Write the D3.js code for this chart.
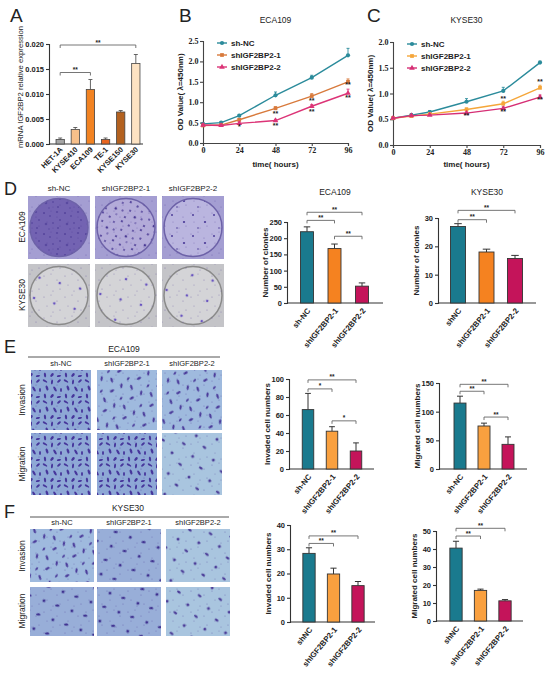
<!DOCTYPE html>
<html lang="en">
<head>
  <meta charset="UTF-8">
  <title>IGF2BP2 panels</title>
  <style>
    body { margin: 0; background: #fff; }
    svg { display: block; }
    .tk text { font-family: "Liberation Sans", Arial, sans-serif; font-size: 7.5px; font-weight: bold; fill: #222; }
    .tk path, .tk line { stroke: #333; stroke-width: 1.1; }
    .sr text { font-family: "Liberation Serif", "Times New Roman", serif; font-size: 8px; font-weight: bold; fill: #222; }
    .sr path, .sr line { stroke: #444; stroke-width: 1.1; }
    .lab { font-family: "Liberation Sans", Arial, sans-serif; fill: #222; }
  </style>
</head>
<body>
<div id="fig"></div>
<script src="https://d3js.org/d3.v7.min.js"></script>
<script>
// ---- data ----
const cellLines = ["HET-1A", "KYSE410", "ECA109", "TE-1", "KYSE150", "KYSE30"];
const exprMean = [0.0009, 0.0029, 0.0109, 0.0009, 0.0064, 0.0161];
const exprErr = [0.0003, 0.0004, 0.0020, 0.0003, 0.0003, 0.0018];
const exprColors = ["#a6a6a6", "#f7c08a", "#f28322", "#e8651f", "#b3611f", "#fde3c3"];

const hours = [0, 12, 24, 48, 72, 96];
const ecaNC = [0.47, 0.50, 0.67, 1.17, 1.60, 2.15];
const ecaNCErr = [0.02, 0.02, 0.03, 0.08, 0.06, 0.17];
const ecaSh1 = [0.43, 0.44, 0.57, 0.85, 1.15, 1.50];
const ecaSh1Err = [0.02, 0.02, 0.03, 0.04, 0.06, 0.07];
const ecaSh2 = [0.44, 0.43, 0.48, 0.55, 0.90, 1.22];
const ecaSh2Err = [0.02, 0.02, 0.04, 0.03, 0.04, 0.10];
const ecaStars = [[24, 0.38, "*"], [48, 0.71, "**"], [48, 0.42, "**"], [72, 1.04, "**"], [72, 0.77, "**"], [96, 1.41, "**"], [96, 1.11, "**"]];

const kyNC = [0.52, 0.58, 0.64, 0.84, 1.05, 1.60];
const kyNCErr = [0.02, 0.03, 0.03, 0.06, 0.07, 0.03];
const kySh1 = [0.52, 0.56, 0.60, 0.69, 0.80, 1.11];
const kySh1Err = [0.02, 0.02, 0.02, 0.03, 0.05, 0.05];
const kySh2 = [0.52, 0.57, 0.58, 0.62, 0.71, 0.93];
const kySh2Err = [0.02, 0.02, 0.02, 0.02, 0.03, 0.04];
const kyStars = [[48, 0.57, "**"], [72, 0.90, "**"], [72, 0.64, "**"], [96, 1.23, "**"], [96, 0.87, "**"]];

const groups = ["sh-NC", "shIGF2BP2-1", "shIGF2BP2-2"];
const groupsB = ["shNC", "shIGF2BP2-1", "shIGF2BP2-2"];

const clonesEca = [220, 168, 52], clonesEcaErr = [15, 14, 10];
const clonesKy = [27, 18, 15.7], clonesKyErr = [1, 1, 1.1];
const invEca = [66, 42, 20], invEcaErr = [18, 5, 9];
const migEca = [115, 75, 43], migEcaErr = [12, 5, 13];
const invKy = [28.3, 19.8, 15], invKyErr = [2.3, 2.4, 1.7];
const migKy = [40.5, 17, 11.2], migKyErr = [3.8, 0.7, 0.7];

const svg = d3.select("#fig").append("svg").attr("width", 550).attr("height", 673);
svg.append("rect").attr("width", 550).attr("height", 673).attr("fill", "#fff");

// photo textures (stand-ins for the micrographs)
const defs = svg.append("defs");
function texture(id, size, bg, fg, spots, rot) {
  const p = defs.append("pattern").attr("id", id).attr("patternUnits", "userSpaceOnUse")
    .attr("width", size).attr("height", size).attr("patternTransform", `rotate(${rot || 0})`);
  p.append("rect").attr("width", size).attr("height", size).attr("fill", bg);
  spots.forEach(s => p.append("ellipse").attr("cx", s[0]).attr("cy", s[1])
    .attr("rx", s[2]).attr("ry", s[3]).attr("fill", fg)
    .attr("transform", `rotate(${s[4] || 0},${s[0]},${s[1]})`));
}
const speck = [[2, 3, 0.6, 0.6], [9, 1, 0.5, 0.5], [15, 7, 0.6, 0.6], [5, 12, 0.5, 0.5], [18, 16, 0.6, 0.6], [11, 18, 0.5, 0.5]];
const manyDots = [[2, 3, 1.1, 1.1], [8, 6, 0.9, 0.9], [15, 2, 1.2, 1.1], [18, 10, 1, 1], [4, 14, 1.3, 1.2], [11, 13, 0.9, 0.9], [16, 18, 1.1, 1], [7, 19, 0.8, 0.8]];
const fewDots = [[4, 5, 1, 1], [16, 12, 1.2, 1.1], [9, 18, 0.8, 0.8]];
const cellsMany = [[3, 3, 2.6, 1, 30], [10, 4, 1, 2.4, 10], [17, 3, 2.2, 1.1, -40], [5, 10, 1.2, 2.6, -20], [13, 11, 2.8, 1.2, 60],
  [19, 12, 1, 2, 0], [3, 18, 2.4, 1.1, 80], [10, 18, 1.3, 2.2, 40], [17, 19, 2.2, 1, -10]];
const cellsSome = [[4, 4, 2.6, 1.1, 50], [15, 6, 1.1, 2.5, -15], [8, 14, 2.4, 1.2, -50], [19, 18, 1, 1.8, 20]];
const cellsFew = [[6, 6, 2.2, 1.2, 30], [17, 17, 1.5, 1.5, 0]];
texture("sp1", 21, "rgba(0,0,0,0)", "rgba(60,40,140,0.45)", speck);
texture("plateDense", 21, "#7363b2", "#5a4aa0", manyDots);
texture("plateMid", 21, "#b3abd9", "#4b3a95", manyDots, 25);
texture("plateLight", 21, "#bab5df", "#4e3e9a", fewDots);
texture("plateGray", 21, "#d4d4d7", "#6a55c0", [[5, 6, 1.3, 1.2]], 15);
texture("cellsDense", 21, "#8ea8d6", "#47379c", cellsMany);
texture("cellsMid", 21, "#9fbade", "#4a3a9a", cellsSome, 20);
texture("cellsLight", 21, "#a9c5df", "#4c3d98", cellsFew, 10);
texture("cellsF", 21, "#98aed8", "#3f3190", cellsFew, -25);

function photo(x, y, w, h, fill, plate) {
  svg.append("rect").attr("x", x).attr("y", y).attr("width", w).attr("height", h)
    .attr("fill", plate ? (plate === "gray" ? "#c4c4c8" : "#a49ed2") : `url(#${fill})`);
  if (plate) {
    svg.append("circle").attr("cx", x + w / 2).attr("cy", y + h / 2).attr("r", Math.min(w, h) / 2 - 2)
      .attr("fill", `url(#${fill})`).attr("stroke", plate === "gray" ? "#8a8a8a" : "#6d62a8").attr("stroke-width", 1.5);
  }
  svg.append("rect").attr("x", x).attr("y", y).attr("width", w).attr("height", h).attr("fill", "url(#sp1)");
}
function text(x, y, s, size, opts = {}) {
  const t = svg.append("text").attr("class", "lab").attr("x", x).attr("y", y).text(s)
    .attr("font-size", size).attr("text-anchor", opts.anchor || "middle");
  if (opts.bold) t.attr("font-weight", "bold");
  if (opts.rot) t.attr("transform", `rotate(${opts.rot},${x},${y})`);
  if (opts.family) t.attr("font-family", opts.family);
  return t;
}
function bracket(x1, x2, y, label) {
  svg.append("path").attr("d", `M${x1},${y + 3}V${y}H${x2}V${y + 3}`)
    .attr("fill", "none").attr("stroke", "#666").attr("stroke-width", 0.9);
  text((x1 + x2) / 2, y - 0.5, label, 6.5, { bold: true }).attr("fill", "#555");
}

// panel letters
text(10, 22, "A", 19, { anchor: "start" });
text(179, 22, "B", 19, { anchor: "start" });
text(367, 22, "C", 19, { anchor: "start" });
text(4, 195, "D", 18, { anchor: "start" });
text(4, 353, "E", 18, { anchor: "start" });
text(4, 518, "F", 18, { anchor: "start" });

// ---- A: expression bars ----
(function () {
  const y = d3.scaleLinear().domain([0, 0.02]).range([144, 44]);
  const x = d3.scaleBand().domain(cellLines).range([53, 143]).paddingInner(0.45).paddingOuter(0.2);
  svg.append("g").attr("class", "tk").attr("transform", "translate(49,0)")
    .call(d3.axisLeft(y).tickValues(d3.range(0, 0.0201, 0.005)).tickSize(3).tickPadding(2).tickFormat(d3.format(".3f")));
  svg.append("line").attr("x1", 49).attr("x2", 143).attr("y1", 144).attr("y2", 144)
    .attr("stroke", "#333").attr("stroke-width", 1.1);
  const g = svg.append("g");
  g.selectAll("path").data(cellLines).join("path")
    .attr("d", (d, i) => { const c = x(d) + x.bandwidth() / 2, t = y(exprMean[i] + exprErr[i]);
      return `M${c},${y(exprMean[i])}V${t}M${c - 2},${t}H${c + 2}`; })
    .attr("stroke", "#555").attr("stroke-width", 0.9);
  g.selectAll("rect").data(cellLines).join("rect")
    .attr("x", d => x(d)).attr("width", x.bandwidth())
    .attr("y", (d, i) => y(exprMean[i])).attr("height", (d, i) => 144 - y(exprMean[i]))
    .attr("fill", (d, i) => exprColors[i]).attr("stroke", "#444").attr("stroke-width", 0.8);
  const cx = d => x(d) + x.bandwidth() / 2;
  bracket(cx("HET-1A"), cx("ECA109"), y(0.0143), "**");
  bracket(cx("HET-1A"), cx("KYSE30"), y(0.0198), "**");
  cellLines.forEach(d => text(cx(d) + 3, 150, d, 7.5, { anchor: "end", bold: true, rot: -45 }));
  text(23, 87, "mRNA IGF2BP2 relative  expression", 7.7, { rot: -90 });
})();

// ---- B, C: growth curves ----
function growth(cfg) {
  const x = d3.scaleLinear().domain([0, 96]).range([cfg.x0, cfg.x1]);
  const y = d3.scaleLinear().domain([0, cfg.max]).range([cfg.y0, cfg.y1]);
  svg.append("g").attr("class", "sr").attr("transform", `translate(0,${cfg.y0})`)
    .call(d3.axisBottom(x).tickValues([0, 24, 48, 72, 96]).tickSize(3).tickPadding(1.5));
  svg.append("g").attr("class", "sr").attr("transform", `translate(${cfg.x0},0)`)
    .call(d3.axisLeft(y).tickValues(d3.range(0, cfg.max + 0.01, 0.5)).tickSize(3).tickPadding(1.5).tickFormat(d3.format(".1f")));
  const line = d3.line().x((d, i) => x(hours[i])).y(d => y(d));
  cfg.series.forEach(s => {
    svg.append("path").datum(s.v).attr("d", line).attr("fill", "none").attr("stroke", s.c).attr("stroke-width", 1.4);
    svg.append("g").selectAll("path").data(s.v).join("path")
      .attr("d", (d, i) => { const c = x(hours[i]), t = y(d + s.e[i]); return `M${c},${y(d)}V${t}M${c - 1.5},${t}H${c + 1.5}`; })
      .attr("stroke", s.c).attr("stroke-width", 0.9);
    svg.append("g").selectAll("path").data(s.v).join("path")
      .attr("transform", (d, i) => `translate(${x(hours[i])},${y(d)})`)
      .attr("d", d3.symbol().type(s.sym).size(14)).attr("fill", s.c);
  });
  cfg.stars.forEach(s => text(x(s[0]), y(s[1]) + 2, s[2], 7, { bold: true }).attr("fill", "#444"));
  text((cfg.x0 + cfg.x1) / 2, 23, cfg.title, 8.5);
  text((cfg.x0 + cfg.x1) / 2, 167, "time( hours)", 8, { bold: true, family: "Liberation Serif, serif" });
  text(cfg.x0 - 20, (cfg.y0 + cfg.y1) / 2, "OD Value( λ=450nm)", 8, { rot: -90, bold: true, family: "Liberation Serif, serif" });
  cfg.series.forEach((s, i) => {
    const ly = cfg.ly + i * 12;
    svg.append("line").attr("x1", cfg.lx).attr("x2", cfg.lx + 10).attr("y1", ly).attr("y2", ly).attr("stroke", s.c).attr("stroke-width", 1.4);
    svg.append("path").attr("transform", `translate(${cfg.lx + 5},${ly})`).attr("d", d3.symbol().type(s.sym).size(14)).attr("fill", s.c);
    text(cfg.lx + 14, ly + 3, groups[i], 8, { anchor: "start", bold: true });
  });
}
growth({
  x0: 203, x1: 348, y0: 143, y1: 41, max: 2.5, title: "ECA109", lx: 217, ly: 43, stars: ecaStars,
  series: [
    { v: ecaNC, e: ecaNCErr, c: "#2b8b9b", sym: d3.symbolCircle },
    { v: ecaSh1, e: ecaSh1Err, c: "#d87a3c", sym: d3.symbolSquare },
    { v: ecaSh2, e: ecaSh2Err, c: "#dc3477", sym: d3.symbolTriangle }
  ]
});
growth({
  x0: 393, x1: 540, y0: 145, y1: 42, max: 2.0, title: "KYSE30", lx: 407, ly: 44, stars: kyStars,
  series: [
    { v: kyNC, e: kyNCErr, c: "#2b8b9b", sym: d3.symbolCircle },
    { v: kySh1, e: kySh1Err, c: "#f5a63a", sym: d3.symbolSquare },
    { v: kySh2, e: kySh2Err, c: "#d62f75", sym: d3.symbolTriangle }
  ]
});

// ---- photo blocks ----
const colsD = [28, 95, 162], colsE = [31, 97, 162], colsF = [30, 97, 166];
groups.forEach((g, i) => text(colsD[i] + 31, 191, g, 8));
[["plateDense", "purple"], ["plateMid", "purple"], ["plateLight", "purple"]]
  .forEach((p, i) => photo(colsD[i], 196, 62, 63, p[0], p[1]));
[0, 1, 2].forEach(i => photo(colsD[i], 264, 62, 63, "plateGray", "gray"));
text(25, 227, "ECA109", 8.5, { rot: -90 });
text(25, 295, "KYSE30", 8.5, { rot: -90 });

text(124, 352, "ECA109", 8.5);
svg.append("line").attr("x1", 28).attr("x2", 220).attr("y1", 357).attr("y2", 357).attr("stroke", "#555");
groups.forEach((g, i) => text(colsE[i] + 30, 366, g, 7.5));
["cellsDense", "cellsMid", "cellsMid"].forEach((f, i) => photo(colsE[i], 370, 60, 60, f));
["cellsDense", "cellsDense", "cellsLight"].forEach((f, i) => photo(colsE[i], 433, 60, 62, f));
text(25, 400, "Invasion", 8.5, { rot: -90 });
text(25, 464, "Migration", 8.5, { rot: -90 });

text(128, 511, "KYSE30", 8.5);
svg.append("line").attr("x1", 30).attr("x2", 229).attr("y1", 517).attr("y2", 517).attr("stroke", "#555");
groups.forEach((g, i) => text(colsF[i] + 32, 525, g, 7.5));
["cellsMid", "cellsF", "cellsLight"].forEach((f, i) => photo(colsF[i], 529, 64, 53, f));
["cellsF", "cellsF", "cellsLight"].forEach((f, i) => photo(colsF[i], 587, 64, 49, f));
text(25, 556, "Invasion", 8.5, { rot: -90 });
text(25, 611, "Migration", 8.5, { rot: -90 });

// ---- D-F bar charts ----
function bars(cfg) {
  const y = d3.scaleLinear().domain([0, cfg.max]).range([cfg.y0, cfg.y1]);
  const x = d3.scalePoint().domain(cfg.cats).range([cfg.c0, cfg.c1]);
  svg.append("g").attr("class", "tk").attr("transform", `translate(${cfg.ax0},0)`)
    .call(d3.axisLeft(y).tickValues(d3.range(0, cfg.max + 0.001, cfg.step)).tickSize(3).tickPadding(2).tickFormat(d3.format("d")));
  svg.append("line").attr("x1", cfg.ax0).attr("x2", cfg.ax1).attr("y1", cfg.y0).attr("y2", cfg.y0)
    .attr("stroke", "#333").attr("stroke-width", 1.1);
  const w = cfg.bw;
  svg.append("g").selectAll("path").data(cfg.cats).join("path")
    .attr("d", (d, i) => { const c = x(d), t = y(cfg.v[i] + cfg.e[i]); return `M${c},${y(cfg.v[i])}V${t}M${c - w / 4},${t}H${c + w / 4}`; })
    .attr("stroke", "#333").attr("stroke-width", 1);
  svg.append("g").selectAll("rect").data(cfg.cats).join("rect")
    .attr("x", d => x(d) - w / 2).attr("width", w)
    .attr("y", (d, i) => y(cfg.v[i])).attr("height", (d, i) => cfg.y0 - y(cfg.v[i]))
    .attr("fill", (d, i) => cfg.colors[i]).attr("stroke", "#333").attr("stroke-width", 0.9);
  cfg.sig.forEach(s => bracket(x(cfg.cats[s[0]]), x(cfg.cats[s[1]]), y(s[2]), s[3]));
  cfg.cats.forEach(d => text(x(d) + 4, cfg.y0 + 8, d, 7.8, { anchor: "end", bold: true, rot: -50 }));
  text(cfg.ax0 - 19, (cfg.y0 + cfg.y1) / 2, cfg.label, 8, { bold: true, rot: -90 });
  if (cfg.title) text((cfg.ax0 + cfg.ax1) / 2, cfg.ty, cfg.title, 8.5);
}
const colD = ["#1a7a8e", "#f58220", "#c4145a"];
const colE = ["#1a7a8e", "#f9a03f", "#c4145a"];

bars({ cats: groups, v: clonesEca, e: clonesEcaErr, max: 250, step: 50, y0: 303, y1: 222,
  ax0: 287, ax1: 383, c0: 307, c1: 362, bw: 13, colors: colD, label: "Number of clonies",
  title: "ECA109", ty: 195, sig: [[0, 1, 255, "**"], [0, 2, 280, "**"], [1, 2, 206, "**"]] });
bars({ cats: groupsB, v: clonesKy, e: clonesKyErr, max: 30, step: 10, y0: 303, y1: 218,
  ax0: 438, ax1: 536, c0: 458, c1: 515, bw: 15, colors: colD, label: "Number of clonies",
  title: "KYSE30", ty: 195, sig: [[0, 1, 29.4, "**"], [0, 2, 32.7, "**"]] });
bars({ cats: groups, v: invEca, e: invEcaErr, max: 100, step: 20, y0: 469, y1: 379,
  ax0: 289, ax1: 374, c0: 308, c1: 356, bw: 11.5, colors: colE, label: "Invaded cell numbers",
  sig: [[0, 1, 89, "*"], [0, 2, 99, "**"], [1, 2, 53.5, "*"]] });
bars({ cats: groups, v: migEca, e: migEcaErr, max: 150, step: 50, y0: 469, y1: 383,
  ax0: 439, ax1: 527, c0: 460, c1: 508, bw: 12, colors: colE, label: "Migrated cell numbers",
  sig: [[0, 1, 135.6, "**"], [0, 2, 147.7, "**"], [1, 2, 90.6, "**"]] });
bars({ cats: groupsB, v: invKy, e: invKyErr, max: 40, step: 10, y0: 622, y1: 525,
  ax0: 290, ax1: 375, c0: 309, c1: 358, bw: 12.3, colors: colE, label: "Invaded cell numbers",
  sig: [[0, 1, 32.4, "**"], [0, 2, 35.5, "**"]] });
bars({ cats: groupsB, v: migKy, e: migKyErr, max: 50, step: 10, y0: 621, y1: 531,
  ax0: 436, ax1: 523, c0: 456, c1: 505, bw: 12.3, colors: colE, label: "Migrated cell numbers",
  sig: [[0, 1, 47.2, "**"], [0, 2, 51.5, "**"]] });
</script>
</body>
</html>
